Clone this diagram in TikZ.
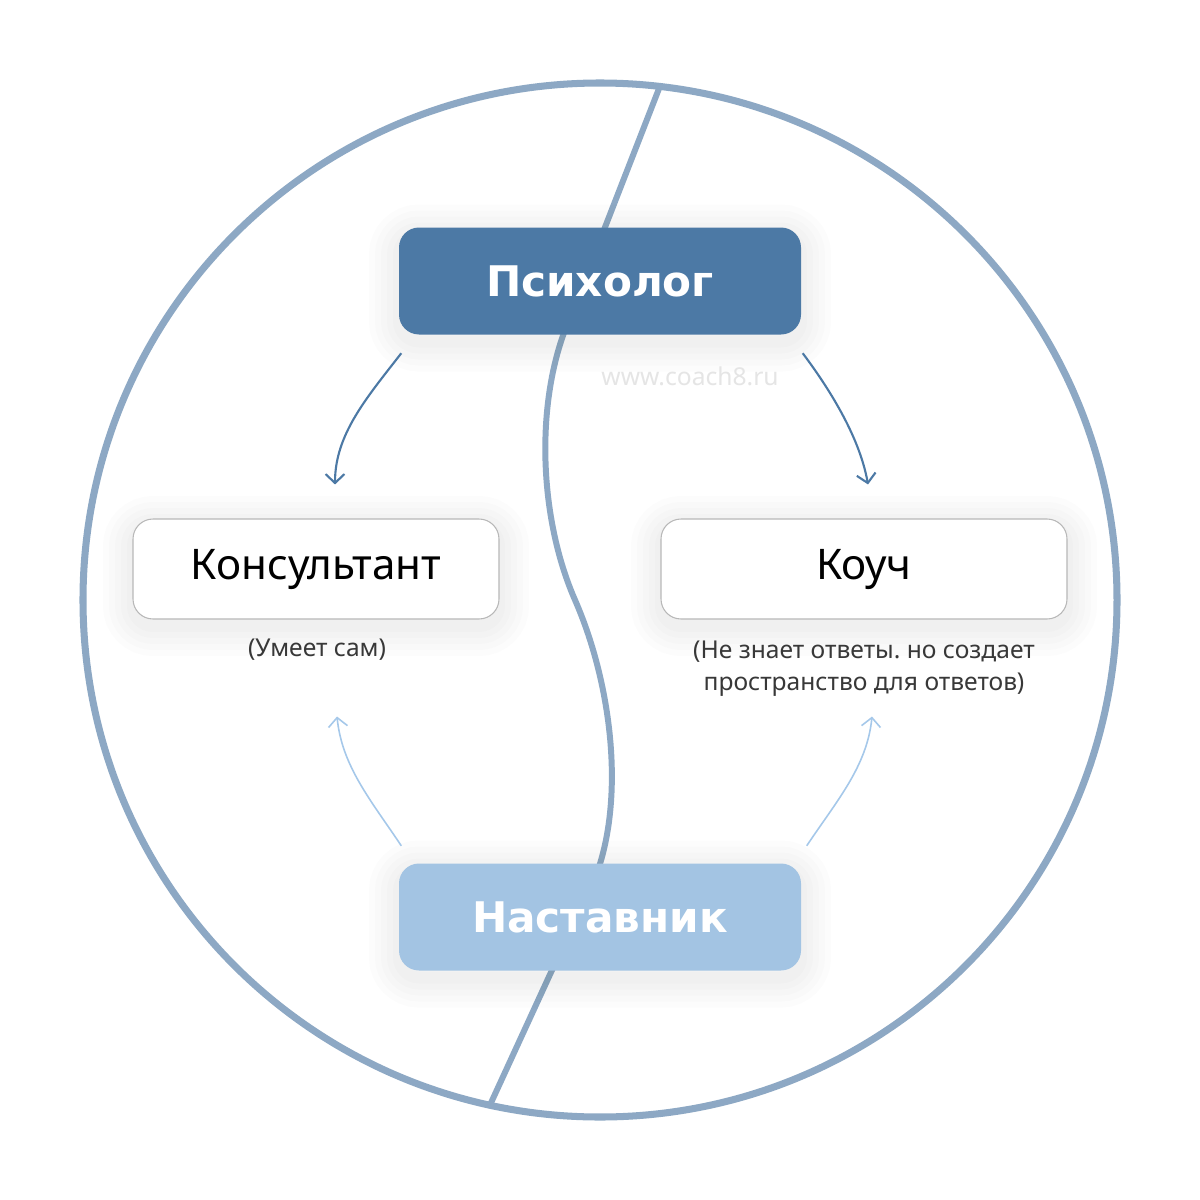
\documentclass[tikz,border=0pt]{standalone}
\usepackage{fontspec}
\setmainfont{Noto Sans}
\newfontfamily\headfont{DejaVu Sans}
\frenchspacing
\usetikzlibrary{arrows.meta}
\definecolor{ring}{HTML}{8DA8C4}
\definecolor{psyblue}{HTML}{4C79A5}
\definecolor{mentorblue}{HTML}{A3C4E3}
\definecolor{lightarrow}{HTML}{A5C8EA}
\tikzset{
  shadowring/.style={preaction={draw=black, draw opacity=0.012, line width=#1, transform canvas={yshift=-0.7mm}}},
  softshadow/.style={shadowring=6mm, shadowring=4.8mm, shadowring=3.6mm, shadowring=2.4mm, shadowring=1.2mm},
  mainbox/.style={rounded corners=2mm, minimum width=40.2mm, minimum height=10.7mm, text=white, font=\headfont\bfseries\fontsize{12}{14}\selectfont, softshadow},
  rolebox/.style={draw=black!28, line width=0.3pt, fill=white, rounded corners=2mm, minimum height=10mm, font=\fontsize{12}{14}\selectfont, softshadow},
  note/.style={font=\fontsize{7}{9.1}\selectfont, align=center, text=black!78},
  darr/.style={psyblue, line width=0.6pt, -{Straight Barb[length=0.9mm,width=1.9mm]}},
  larr/.style={lightarrow, line width=0.45pt, -{Straight Barb[length=0.9mm,width=1.9mm]}},
}
\begin{document}
\begin{tikzpicture}[x=0.1mm,y=-0.1mm]
  \useasboundingbox (0,0) rectangle (1200,1200);
  \fill[white] (0,0) rectangle (1200,1200);
  \draw[ring, line width=2pt] (600,600) circle (517);
  \draw[ring, line width=1.7pt] (660,86) -- (565,330) .. controls (535,410) and (540,520) .. (575,600)
    .. controls (610,680) and (625,790) .. (598,870) -- (490,1105);

  \node[mainbox, fill=psyblue] (psy) at (600,281) {Психолог};
  \node[rolebox, minimum width=36.6mm] (kons) at (316,569) {Консультант};
  \node[rolebox, minimum width=40.6mm] (coach) at (864,569) {Коуч};
  \node[mainbox, fill=mentorblue] (nast) at (600,917) {Наставник};

  \node[note] (konsnote) at (317,650) {(Умеет сам)};
  \node[note] (coachnote) at (864,669) {(Не знает ответы. но создает\\пространство для ответов)};
  \node[font=\fontsize{7}{8}\selectfont, text=black!10] (site) at (690,376) {www.coach8.ru};

  \draw[darr] ([shift={(3,18)}]psy.south west) .. controls +(-35,45) and +(0,-50) .. ([shift={(19,-34)}]kons.north);
  \draw[darr] ([shift={(1,18)}]psy.south east) .. controls +(30,40) and +(-8,-45) .. ([shift={(4,-34)}]coach.north);
  \draw[larr] ([shift={(3,-17)}]nast.north west) .. controls +(-30,-45) and +(5,50) .. ([shift={(21,97)}]kons.south);
  \draw[larr] ([shift={(5,-17)}]nast.north east) .. controls +(30,-45) and +(-5,50) .. ([shift={(8,97)}]coach.south);
\end{tikzpicture}
\end{document}
